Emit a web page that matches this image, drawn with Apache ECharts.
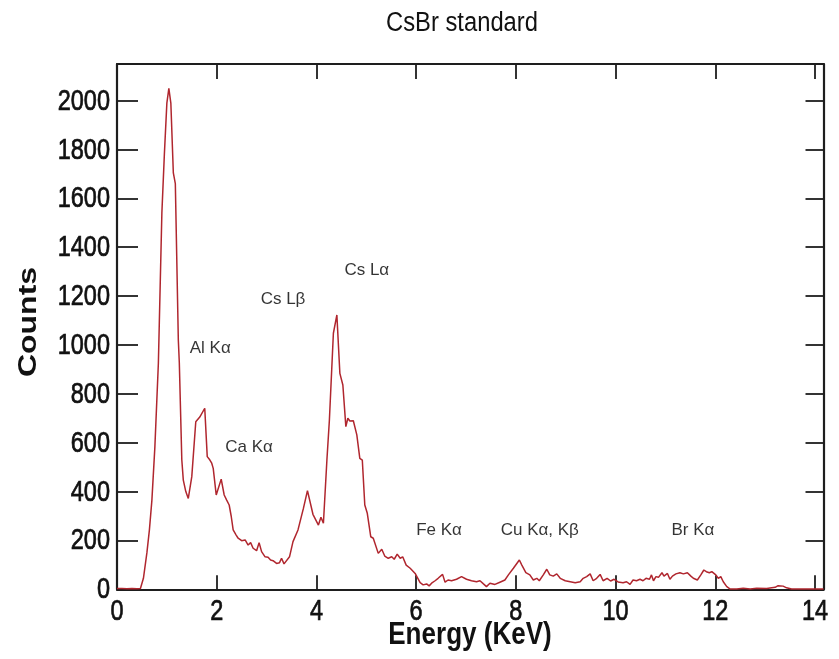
<!DOCTYPE html>
<html>
<head>
<meta charset="utf-8">
<script src="https://cdn.jsdelivr.net/npm/echarts@6/dist/echarts.min.js"></script>
<style>
html,body{margin:0;padding:0;background:#fff;}
#chart{width:839px;height:659px;}
</style>
</head>
<body>
<div id="chart"></div>
<script>
const energy = [0.00,0.10,0.20,0.30,0.40,0.47,0.53,0.60,0.65,0.70,0.76,0.83,0.90,0.95,1.00,1.04,1.08,1.13,1.17,1.23,1.25,1.30,1.33,1.38,1.43,1.50,1.58,1.66,1.76,1.81,1.86,1.90,1.93,1.99,2.03,2.09,2.15,2.20,2.25,2.29,2.33,2.39,2.43,2.50,2.57,2.63,2.68,2.73,2.80,2.85,2.90,2.97,3.03,3.08,3.13,3.20,3.26,3.30,3.35,3.39,3.46,3.53,3.63,3.74,3.82,3.86,3.93,3.97,4.04,4.09,4.14,4.21,4.26,4.34,4.41,4.47,4.53,4.59,4.63,4.67,4.74,4.81,4.87,4.92,4.97,5.02,5.09,5.14,5.24,5.31,5.37,5.44,5.51,5.56,5.62,5.68,5.73,5.80,5.88,5.98,6.02,6.08,6.14,6.21,6.26,6.31,6.38,6.44,6.53,6.58,6.64,6.71,6.81,6.91,7.01,7.11,7.21,7.28,7.35,7.41,7.48,7.58,7.68,7.78,7.85,7.95,8.07,8.12,8.20,8.28,8.35,8.42,8.47,8.55,8.62,8.68,8.75,8.82,8.89,8.99,9.09,9.19,9.29,9.35,9.42,9.49,9.55,9.62,9.69,9.75,9.83,9.90,9.97,10.05,10.15,10.22,10.29,10.35,10.42,10.49,10.55,10.61,10.68,10.72,10.76,10.81,10.86,10.93,10.97,11.04,11.09,11.14,11.21,11.29,11.36,11.44,11.51,11.56,11.64,11.71,11.77,11.82,11.88,11.93,11.97,12.01,12.06,12.11,12.16,12.23,12.30,12.43,12.56,12.70,12.83,13.03,13.20,13.26,13.36,13.43,13.53,13.77,14.17];
const counts = [3,3,2,3,2,3,45,150,243,365,584,926,1540,1780,1990,2050,1990,1704,1660,1020,926,529,447,400,372,461,686,705,741,543,530,516,495,386,386,451,386,365,345,300,243,222,209,199,202,181,191,168,158,191,154,133,131,120,117,106,109,127,104,97,133,195,243,332,404,400,307,304,263,295,270,529,693,1048,1123,884,836,666,700,689,690,632,536,529,345,311,215,209,147,164,136,127,133,123,144,127,133,99,86,65,50,27,18,22,14,25,35,45,61,29,38,35,41,52,41,35,31,35,22,11,25,20,29,38,59,86,120,99,68,59,38,45,35,59,82,59,54,63,45,35,31,27,31,45,52,63,35,45,61,35,45,34,41,30,27,31,20,38,35,41,35,45,41,59,35,52,49,68,54,65,41,54,63,68,63,68,54,45,38,59,79,72,68,72,65,59,45,52,31,11,1,1,4,1,4,3,8,15,13,6,1,1,1];

const peakLabels = ["Cs Lα","Cs Lβ","Al Kα","Ca Kα","Fe Kα","Cu Kα, Kβ","Br Kα"];
const peakLabelX = [5.01,3.33,1.87,2.65,6.46,8.48,11.55];
const peakLabelY = [1307,1188,988,583,243,243,243];

const xTicks = [0,2,4,6,8,10,12,14];
const yTicks = [0,200,400,600,800,1000,1200,1400,1600,1800,2000];

const titleText = 'CsBr standard';
const xName = 'Energy (KeV)';
const yName = 'Counts';

const chart = echarts.init(document.getElementById('chart'), null, {renderer:'canvas'});
const sans = "'Liberation Sans',Arial,Helvetica,sans-serif";
const axisColor = '#1e1e1e';

const option = {
  backgroundColor:'#fff',
  animation:false,
  grid:{left:117, right:15.5, top:64, bottom:69.7, outerBoundsMode:'none', containLabel:false},
  xAxis:[{
    type:'value', min:0, max:14.17, interval:2, position:'bottom',
    axisLine:{show:true, onZero:false, lineStyle:{color:axisColor, width:2.2}},
    axisTick:{show:true, inside:true, length:14, lineStyle:{color:axisColor, width:1.8}},
    axisLabel:{show:false}, splitLine:{show:false}
  },{
    type:'value', min:0, max:14.17, interval:2, position:'top',
    axisLine:{show:true, onZero:false, lineStyle:{color:axisColor, width:2.2}},
    axisTick:{show:true, inside:true, length:15, lineStyle:{color:axisColor, width:1.8}},
    axisLabel:{show:false}, splitLine:{show:false}
  }],
  yAxis:[{
    type:'value', min:0, max:2150, interval:200, position:'left',
    axisLine:{show:true, onZero:false, lineStyle:{color:axisColor, width:2.2}},
    axisTick:{show:true, inside:true, length:21, lineStyle:{color:axisColor, width:1.8}},
    axisLabel:{show:false}, splitLine:{show:false}
  },{
    type:'value', min:0, max:2150, interval:200, position:'right',
    axisLine:{show:true, onZero:false, lineStyle:{color:axisColor, width:2.2}},
    axisTick:{show:true, inside:true, length:18, lineStyle:{color:axisColor, width:1.8}},
    axisLabel:{show:false}, splitLine:{show:false}
  }],
  series:[{
    type:'line',
    data: energy.map((e,i)=>[e, counts[i]]),
    symbol:'none',
    lineStyle:{color:'#b0262e', width:1.5},
    clip:true
  },{
    type:'scatter',
    symbolSize:0,
    data: peakLabels.map((t,i)=>({name:t, value:[peakLabelX[i], peakLabelY[i]]})),
    label:{show:true, position:'inside', formatter:'{b}',
      fontFamily:sans, fontSize:17, color:'#000'},
    silent:true
  }]
};
chart.setOption(option);

// condensed texts (tick labels, titles) placed through the axes' own scales
const g = [];
const SX = 0.81;
const tickStyle = (t, align, va) => ({text:t, fill:'#111', stroke:'#111', lineWidth:0.7,
  font:'29px '+sans, align:align, verticalAlign:va});
xTicks.forEach(v=>{
  const px = chart.convertToPixel({xAxisIndex:0}, v);
  const py = chart.convertToPixel({yAxisIndex:0}, 0);
  g.push({type:'text', x:px, y:py+8, scaleX:SX, silent:true, style:tickStyle(String(v),'center','top')});
});
yTicks.forEach(v=>{
  const py = chart.convertToPixel({yAxisIndex:0}, v);
  const px = chart.convertToPixel({xAxisIndex:0}, 0);
  g.push({type:'text', x:px-7, y:py+1, scaleX:SX, silent:true, style:tickStyle(String(v),'right','middle')});
});
g.push({type:'text', x:462, y:10, scaleX:0.88, silent:true,
  style:{text:titleText, fill:'#111', font:'27px '+sans, align:'center', verticalAlign:'top'}});
g.push({type:'text', x:470, y:620, scaleX:0.84, silent:true,
  style:{text:xName, fill:'#111', font:'bold 31px '+sans, align:'center', verticalAlign:'top'}});
g.push({type:'text', x:29, y:322, rotation:Math.PI/2, scaleY:0.8, silent:true,
  style:{text:yName, fill:'#111', font:'bold 32px '+sans, align:'center', verticalAlign:'middle'}});
chart.setOption({graphic:g});
</script>
</body>
</html>
